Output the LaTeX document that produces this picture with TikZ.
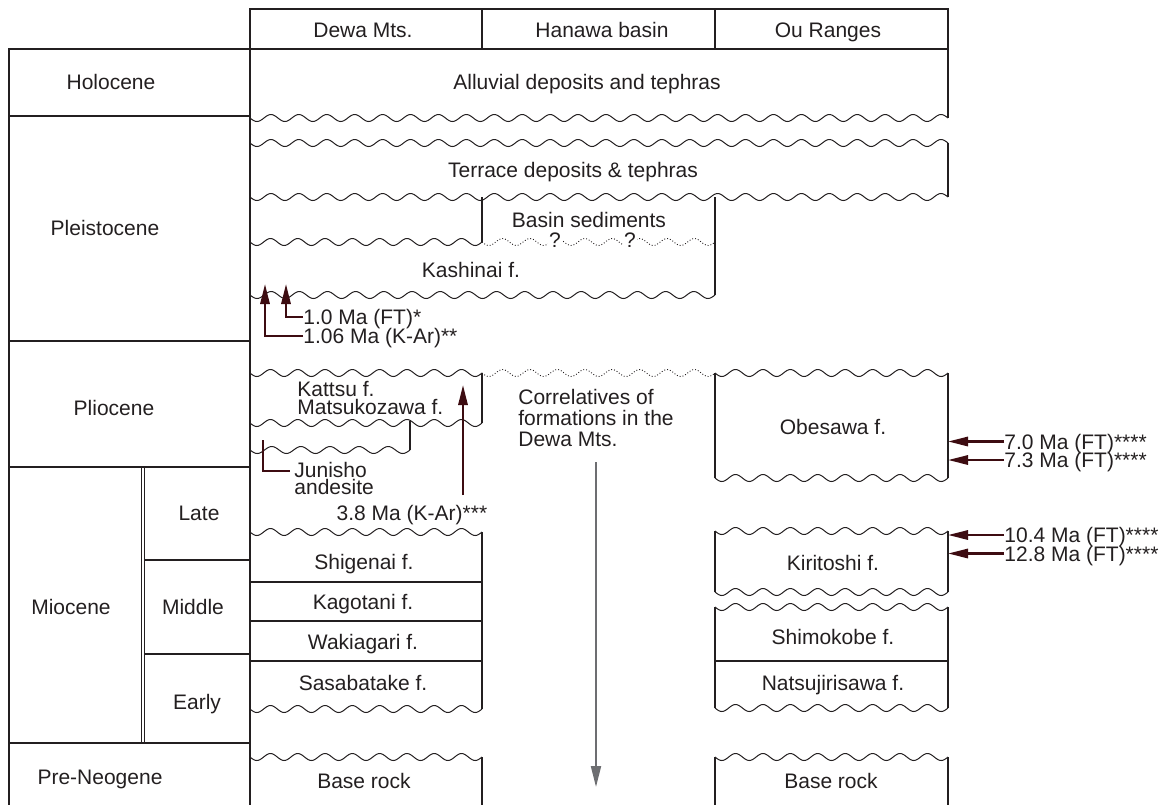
\documentclass[tikz,border=0pt]{standalone}
\usepackage{fontspec}
\setmainfont{Liberation Sans}
\usetikzlibrary{arrows.meta}

\definecolor{ink}{HTML}{231F20}
\definecolor{agecol}{HTML}{3D0C11}
\definecolor{corrcol}{HTML}{6D6E71}

\newcommand{\lblfont}{\fontsize{10.5}{12}\selectfont}

% wavy boundary: \wavy[style]{x1}{x2}{y}
\newcommand{\wavy}[4][wave]{%
	\pgfmathtruncatemacro{\nhalf}{max(1,round((#3-#2)/14))}%
	\pgfmathtruncatemacro{\nsmp}{8*\nhalf+1}%
	\pgfmathsetmacro{\hw}{(#3-#2)/\nhalf}%
	\draw[#1] plot[smooth, domain=#2:#3, samples=\nsmp] (\x,{#4+3.5*sin((\x-#2)/\hw*180)});}

\tikzset{
	box/.style={draw=ink, line width=0.65pt},
	thinbox/.style={draw=ink, line width=0.5pt},
	wave/.style={draw=ink, line width=0.5pt},
	dotwave/.style={draw=ink, line width=0.45pt, densely dotted},
	lbl/.style={text=ink, inner sep=0pt, font=\lblfont, text height=7.5pt, text depth=0pt},
	mlbl/.style={text=ink, inner sep=0pt, align=left, anchor=west},
	age/.style={lbl, anchor=west},
	qmark/.style={lbl, fill=white, inner sep=0.6pt},
	agearrow/.style={draw=agecol, line width=1.2pt, -{Triangle[length=10pt,width=4.6pt]}},
	bracket/.style={draw=agecol, line width=0.55pt},
	corrarrow/.style={draw=corrcol, line width=1pt, -{Triangle[length=10.5pt,width=5pt]}}
}

\begin{document}
\begin{tikzpicture}[x=0.5pt, y=-0.5pt]
	\useasboundingbox (0,0) rectangle (1169,805);
	% header
	\draw[box] (250,9) rectangle (948,49);
	\draw[box] (482,9) -- (482,49) (715,9) -- (715,49);
	\node[lbl] (dewa) at (363,30) {Dewa Mts.};
	\node[lbl] (hanawa) at (602,30) {Hanawa basin};
	\node[lbl] (ou) at (828,30) {Ou Ranges};

	% epochs
	\draw[box] (250,49) -- (9,49) -- (9,805);
	\draw[box] (250,49) -- (250,805);
	\draw[box] (9,116) -- (250,116) (9,341) -- (250,341) (9,467) -- (250,467) (9,743) -- (250,743);
	\draw[thinbox] (141,467) -- (141,743) (144.5,467) -- (144.5,743);
	\draw[box] (144.5,560) -- (250,560) (144.5,654) -- (250,654);
	\node[lbl] (holo) at (111,82) {Holocene};
	\node[lbl] (pleisto) at (105,228) {Pleistocene};
	\node[lbl] (plio) at (114,408) {Pliocene};
	\node[lbl] (mio) at (71,607) {Miocene};
	\node[lbl] (late) at (199,513) {Late};
	\node[lbl] (middle) at (193,607) {Middle};
	\node[lbl] (early) at (197,702) {Early};
	\node[lbl] (preneo) at (100,777) {Pre-Neogene};

	% alluvial and terrace
	\draw[box] (948,49) -- (948,118);
	\wavy{250}{948}{118}
	\node[lbl] (alluv) at (587,82) {Alluvial deposits and tephras};
	\wavy{250}{948}{143}
	\wavy{250}{948}{197}
	\draw[box] (948,143) -- (948,197);
	\node[lbl] (terrace) at (573,170) {Terrace deposits \& tephras};

	% basin sediments, Kashinai
	\draw[box] (482,197) -- (482,242) (715,197) -- (715,295);
	\wavy{250}{482}{242}
	\wavy[dotwave]{482}{715}{242}
	\node[lbl] (basin) at (589,220) {Basin sediments};
	\node[qmark] (q1) at (555,240) {?};
	\node[qmark] (q2) at (630,240) {?};
	\wavy{250}{715}{295}
	\node[lbl] (kashinai) at (471,270) {Kashinai f.};

	% Kattsu, Junisho
	\wavy{250}{482}{373}
	\wavy[dotwave]{482}{715}{373}
	\draw[box] (482,373) -- (482,423);
	\wavy{250}{482}{423}
	\node[mlbl, font={\fontsize{10.5}{9}\selectfont}] (kattsu) at (297,397.5) {Kattsu f.\\Matsukozawa f.};
	\draw[box] (410,420.5) -- (410,450);
	\wavy{250}{410}{450}
	\node[mlbl, font={\fontsize{10.5}{8.5}\selectfont}] (jun) at (294,478.5) {Junisho\\andesite};
	\coordinate (junT) at (263,440);
	\coordinate (junE) at (290,471);
	\draw[bracket] (junT) |- (junE);

	% correlatives
	\node[mlbl, font={\fontsize{10.5}{10.5}\selectfont}] (corr) at (518,418) {Correlatives of\\formations in the\\Dewa Mts.};
	\coordinate (corrS) at (596,462);
	\coordinate (corrE) at (596,787);
	\draw[corrarrow] (corrS) -- (corrE);

	% Dewa Mts. Miocene
	\wavy{250}{482}{532}
	\draw[box] (482,532) -- (482,709);
	\draw[box] (250,582) -- (482,582) (250,621) -- (482,621) (250,661) -- (482,661);
	\wavy{250}{482}{709}
	\node[lbl] (shigenai) at (364,562) {Shigenai f.};
	\node[lbl] (kagotani) at (363,602) {Kagotani f.};
	\node[lbl] (wakiagari) at (363,642) {Wakiagari f.};
	\node[lbl] (sasabatake) at (363,683) {Sasabatake f.};
	\wavy{250}{482}{757}
	\draw[box] (482,757) -- (482,805);
	\node[lbl] (baseD) at (364,781) {Base rock};

	% Ou Ranges
	\wavy{715}{948}{373}
	\draw[box] (715,373) -- (715,478) (948,373) -- (948,478);
	\wavy{715}{948}{478}
	\node[lbl] (obesawa) at (833,427) {Obesawa f.};
	\wavy{715}{948}{531}
	\draw[box] (715,531) -- (715,592) (948,531) -- (948,592);
	\wavy{715}{948}{592}
	\node[lbl] (kiritoshi) at (833,563) {Kiritoshi f.};
	\wavy{715}{948}{607}
	\draw[box] (715,607) -- (715,708) (948,607) -- (948,708);
	\draw[box] (715,661) -- (948,661);
	\wavy{715}{948}{708}
	\node[lbl] (shimokobe) at (833,637) {Shimokobe f.};
	\node[lbl] (natsuji) at (833,683) {Natsujirisawa f.};
	\wavy{715}{948}{757}
	\draw[box] (715,757) -- (715,805) (948,757) -- (948,805);
	\node[lbl] (baseO) at (831,781) {Base rock};

	% ages, Dewa Mts.
	\node[age] (a10) at (303,317) {1.0 Ma (FT)*};
	\node[age] (a106) at (303,336) {1.06 Ma (K-Ar)**};
	\coordinate (k10) at (286,284);
	\coordinate (k106) at (265,284);
	\draw[agearrow] (a10.west) -| (k10);
	\draw[agearrow] (a106.west) -| (k106);
	\node[lbl] (a38) at (412,513) {3.8 Ma (K-Ar)***};
	\coordinate (k38) at (463,385);
	\draw[agearrow, shorten <=5pt] (k38 |- a38.north) -- (k38);

	% ages, Ou Ranges
	\coordinate (ouE) at (948,0);
	\node[age] (a70) at (1004,441.5) {7.0 Ma (FT)****};
	\node[age] (a73) at (1004,460) {7.3 Ma (FT)****};
	\node[age] (a104) at (1004,535) {10.4 Ma (FT)****};
	\node[age] (a128) at (1004,553.5) {12.8 Ma (FT)****};
	\foreach \n in {a70,a73,a104,a128}
		\draw[agearrow] (\n.west) -- (\n.west -| ouE);
\end{tikzpicture}
\end{document}
